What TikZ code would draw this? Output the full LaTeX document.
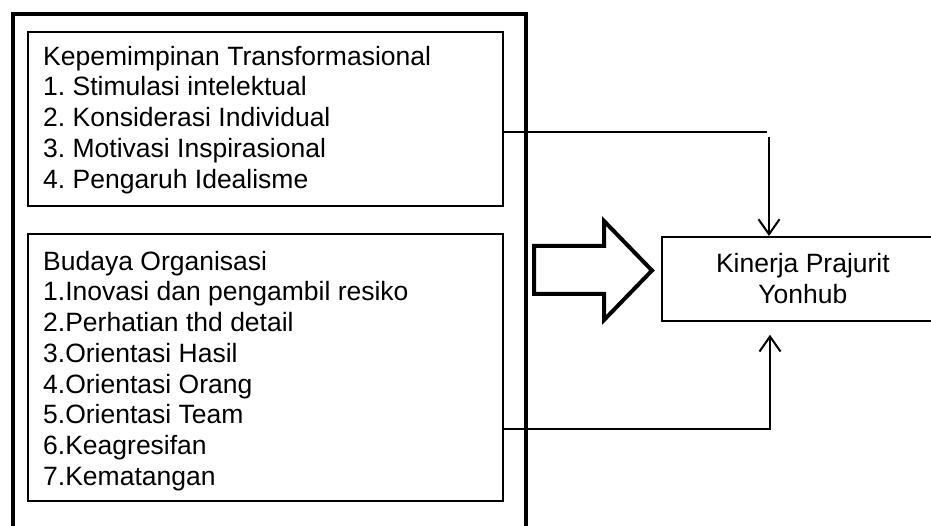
\documentclass[tikz,border=0pt]{standalone}
\usepackage{fontspec}
\setmainfont{Liberation Sans}
\usetikzlibrary{arrows.meta}
\begin{document}
\frenchspacing
\begin{tikzpicture}[x=1pt,y=-1pt,
  frame/.style={draw, line width=4.5pt, anchor=north west, inner sep=0pt, minimum width=513pt, minimum height=540pt},
  box/.style={draw, line width=1.8pt, anchor=north west, inner sep=0pt},
  bodyfont/.style={font=\fontsize{26.5}{30.75}\selectfont\frenchspacing},
  txt/.style={bodyfont, anchor=north west, inner sep=0pt, align=left},
  conn/.style={line width=2pt},
  tip/.style={-{Straight Barb[length=15pt,width=21pt]}},
  bigarrow/.style={draw, line width=4pt, line join=miter}]
\useasboundingbox (0,0) rectangle (931,526);
% outer thick frame (runs past the lower edge)
\node[frame] (frame) at (10.5,12) {};
% inner boxes
\node[box, minimum width=475pt, minimum height=173.5pt] (b1) at (27,31.5) {};
\node[box, minimum width=475pt, minimum height=267pt] (b2) at (27,233) {};
\node[txt] (t1) at (43,43.5) {\strut Kepemimpinan Transformasional\\1. Stimulasi intelektual\\2. Konsiderasi Individual\\3. Motivasi Inspirasional\\4. Pengaruh Idealisme};
\node[txt] (t2) at (43,248.5) {\strut Budaya Organisasi\\1.Inovasi dan pengambil resiko\\2.Perhatian thd detail\\3.Orientasi Hasil\\4.Orientasi Orang\\5.Orientasi Team\\6.Keagresifan\\7.Kematangan};
% target box (runs past the right edge)
\node[box, bodyfont, minimum width=282pt, minimum height=84pt, align=center] (kin) at (661,236) {Kinerja Prajurit\\Yonhub};
% big hollow arrow
\draw[bigarrow] (534,246) -- (604,246) -- (604,221) -- (652,270.5) -- (604,320) -- (604,294) -- (534,294) -- cycle;
% connectors
\coordinate (c1) at (767,132);
\coordinate (c2) at (769,137);
\coordinate (c3) at (770,429);
\draw[conn] (b1.east |- c1) -- (c1);
\draw[conn, tip] (c2) -- (c2 |- kin.north);
\draw[conn, tip, shorten >=13pt] (b2.east |- c3) -- (c3) -- (c3 |- kin.south);
\end{tikzpicture}
\end{document}
